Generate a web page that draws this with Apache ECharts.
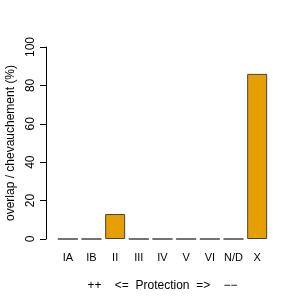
<!DOCTYPE html>
<html>
<head>
<meta charset="utf-8">
<script src="https://cdn.jsdelivr.net/npm/echarts@6/dist/echarts.min.js"></script>
<style>
  html, body { margin: 0; padding: 0; background: #fff; }
  #chart { width: 300px; height: 300px; }
</style>
</head>
<body>
<div id="chart"></div>
<script>
const categories = ['IA', 'IB', 'II', 'III', 'IV', 'V', 'VI', 'N/D', 'X'];
const overlap = [0, 0, 13, 0, 0, 0, 0, 0, 86];
const yTicks = [0, 20, 40, 60, 80, 100];

const chart = echarts.init(document.getElementById('chart'));
const font = 'Liberation Sans, Arial, sans-serif';

chart.setOption({
    animation: false,
    grid: { left: 56, right: 31, top: 47, bottom: 61, outerBoundsMode: 'none', containLabel: false },
    xAxis: {
        type: 'category',
        data: categories,
        name: '++    <=  Protection  =>    \u2212\u2212',
        nameLocation: 'middle',
        nameGap: 41,
        nameTextStyle: { color: '#000', fontSize: 12, fontFamily: font },
        axisLine: { show: false },
        axisTick: { show: false },
        axisLabel: { color: '#000', fontSize: 11, fontFamily: font, margin: 13, interval: 0 }
    },
    yAxis: {
        type: 'value',
        min: 0,
        max: 100,
        interval: 20,
        offset: 10,
        name: 'overlap / chevauchement (%)',
        nameLocation: 'middle',
        nameRotate: 90,
        nameGap: 28,
        nameTextStyle: { color: '#000', fontSize: 12, fontFamily: font },
        splitLine: { show: false },
        axisLine: { show: true, lineStyle: { color: '#000', width: 1 } },
        axisTick: { show: true, length: 6, lineStyle: { color: '#000' } },
        axisLabel: {
            color: '#000', fontSize: 12, fontFamily: font, rotate: 90, margin: 9,
            formatter: v => yTicks.includes(v) ? String(v) : ''
        }
    },
    series: [{
        type: 'bar',
        data: overlap,
        barWidth: 20,
        itemStyle: { color: '#E69F00', borderColor: '#444', borderWidth: 1 }
    }]
});
</script>
</body>
</html>
